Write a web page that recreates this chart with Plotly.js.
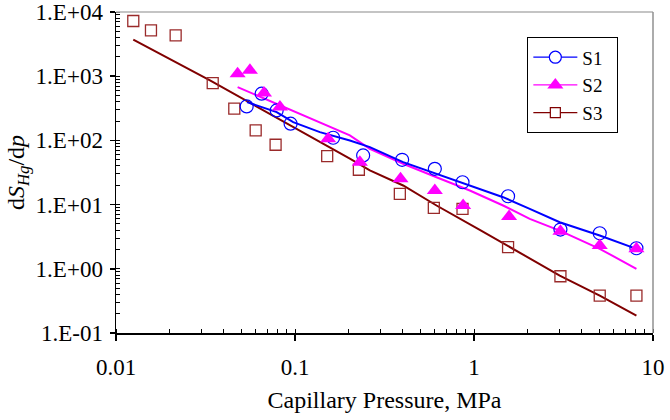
<!DOCTYPE html>
<html>
<head>
<meta charset="utf-8">
<script src="https://cdn.plot.ly/plotly-3.0.1.min.js"></script>
<style>html,body{margin:0;padding:0;background:#fff;}#chart{width:670px;height:420px;}</style>
</head>
<body>
<div id="chart"></div>
<script>
// Measured data (capillary pressure in MPa, dS_Hg/dp)
const s1X = [0.0537, 0.0651, 0.0790, 0.0945, 0.1634, 0.2403, 0.3968, 0.6042, 0.8627, 1.55, 3.04, 5.04, 8.08];
const s1Y = [338, 534, 293, 182, 110, 58.3, 49.9, 36.1, 22.3, 13.5, 4.09, 3.58, 2.09];
const s2X = [0.0478, 0.0560, 0.0671, 0.0824, 0.1532, 0.2304, 0.3886, 0.6042, 0.8694, 1.57, 3.04, 5.04, 8.08];
const s2Y = [1095, 1233, 546, 330, 106, 45.8, 25.3, 16.6, 9.7, 6.52, 3.85, 2.30, 2.05];
const s3X = [0.01249, 0.01568, 0.02154, 0.0347, 0.0458, 0.0603, 0.0779, 0.1513, 0.2274, 0.3852, 0.5965, 0.8627, 1.55, 3.04, 5.04, 8.08];
const s3Y = [7240, 5183, 4331, 781, 312, 143, 85.6, 56.8, 34.9, 14.7, 8.91, 8.6, 2.17, 0.765, 0.382, 0.382];

// Fitted trend lines
const fit1X = [0.0539, 0.0790, 0.0977, 0.1377, 0.2025, 0.2619, 0.4018, 0.6175, 0.9475, 1.454, 2.049, 3.013, 5.04, 8.08];
const fit1Y = [395, 276, 193, 134.6, 99.9, 78.5, 45.8, 30.2, 19.85, 13.04, 8.6, 5.31, 3.30, 2.04];
const fit2X = [0.0478, 0.2025, 0.2619, 0.4018, 0.6175, 0.9475, 1.454, 2.049, 3.013, 5.04, 8.08];
const fit2Y = [677, 119.5, 74.1, 43.3, 26.7, 16.6, 9.68, 6.0, 3.94, 2.05, 1.0];
const fit3X = [0.01249, 0.0335, 0.2025, 0.2619, 0.4018, 0.6175, 1.077, 2.33, 3.013, 5.04, 8.08];
const fit3Y = [3712, 861, 51.8, 34.0, 19.85, 9.68, 4.05, 1.19, 0.783, 0.382, 0.186];

const seriesNames = ['S1', 'S2', 'S3'];
const xTickVals = [0.01, 0.1, 1, 10];
const xTickText = ['0.01', '0.1', '1', '10'];
const yTickVals = [0.1, 1, 10, 100, 1000, 10000];
const yTickText = ['1.E-01', '1.E+00', '1.E+01', '1.E+02', '1.E+03', '1.E+04'];

const cBlue = '#0000FF', cMag = '#FF00FF', cRed = '#800000', cSq = '#9a2a2a';
const FONT = '"Liberation Serif", "Times New Roman", Times, serif';
const PAD = '\u00a0\u00a0';

const traces = [
  {x: fit3X, y: fit3Y, mode: 'lines', line: {color: cRed, width: 2}, showlegend: false, hoverinfo: 'skip'},
  {x: fit2X, y: fit2Y, mode: 'lines', line: {color: cMag, width: 2}, showlegend: false, hoverinfo: 'skip'},
  {x: fit1X, y: fit1Y, mode: 'lines', line: {color: cBlue, width: 2}, showlegend: false, hoverinfo: 'skip'},
  {x: s3X, y: s3Y, mode: 'markers', showlegend: false,
   marker: {symbol: 'square-open', size: 11, color: cSq, line: {color: cSq, width: 1.3}}},
  {x: s1X, y: s1Y, mode: 'markers', showlegend: false,
   marker: {symbol: 'circle-open', size: 13, color: cBlue, line: {color: cBlue, width: 1.2}}},
  {x: s2X, y: s2Y, mode: 'markers', showlegend: false,
   marker: {symbol: 'triangle-up', size: 14, color: cMag, line: {width: 0}}},
  // legend entries
  {x: [null], y: [null], name: seriesNames[0] + PAD, mode: 'lines+markers',
   line: {color: cBlue, width: 1.2}, marker: {symbol: 'circle', size: 12, color: '#fff', line: {color: cBlue, width: 1.2}}},
  {x: [null], y: [null], name: seriesNames[1] + PAD, mode: 'lines+markers',
   line: {color: cMag, width: 1.2}, marker: {symbol: 'triangle-up', size: 14, color: cMag, line: {width: 0}}},
  {x: [null], y: [null], name: seriesNames[2] + PAD, mode: 'lines+markers',
   line: {color: cRed, width: 1.2}, marker: {symbol: 'square', size: 10, color: '#fff', line: {color: cRed, width: 1.2}}}
];

const layout = {
  width: 670, height: 420,
  margin: {l: 116, r: 17, t: 12, b: 87, pad: 0},
  paper_bgcolor: '#fff', plot_bgcolor: '#fff',
  font: {family: FONT, size: 23, color: '#000'},
  showlegend: true,
  legend: {x: 0.766, y: 0.921, xanchor: 'left', yanchor: 'top',
           bgcolor: '#fff', bordercolor: '#000', borderwidth: 1, itemwidth: 44,
           font: {family: FONT, size: 19, color: '#000'}, tracegroupgap: 0},
  xaxis: {
    type: 'log', range: [-2, 1], autorange: false,
    tickmode: 'array', tickvals: xTickVals, ticktext: xTickText,
    ticks: 'outside', ticklen: 6, tickwidth: 1.5, tickcolor: '#000',
    showline: true, linecolor: '#000', linewidth: 1.5, mirror: false,
    showgrid: false, zeroline: false, ticklabelstandoff: 7, ticklabeloverflow: 'allow',
    minor: {ticks: 'inside', ticklen: 4, tickwidth: 1, tickcolor: '#000', dtick: 'D1', showgrid: false},
    tickfont: {family: FONT, size: 23, color: '#000'},
    title: {text: 'Capillary Pressure, MPa', font: {family: FONT, size: 24, color: '#000'}, standoff: 12}
  },
  yaxis: {
    type: 'log', range: [-1, 4], autorange: false,
    tickmode: 'array', tickvals: yTickVals, ticktext: yTickText,
    ticks: 'outside', ticklen: 5, tickwidth: 1.5, tickcolor: '#000',
    showline: true, linecolor: '#000', linewidth: 1.5, mirror: false,
    showgrid: false, zeroline: false, ticklabelstandoff: 2, ticklabeloverflow: 'allow',
    minor: {ticks: 'inside', ticklen: 4, tickwidth: 1, tickcolor: '#000', dtick: 'D1', showgrid: false},
    tickfont: {family: FONT, size: 23, color: '#000'},
    title: {text: 'd<i>S</i><sub><i>Hg</i></sub>/d<i>p</i>', font: {family: FONT, size: 24, color: '#000'}, standoff: 4}
  },
  shapes: [
    {type: 'line', xref: 'paper', yref: 'paper', x0: 0, x1: 1, y0: 1, y1: 1, line: {color: '#b0b0b0', width: 1.5}},
    {type: 'line', xref: 'paper', yref: 'paper', x0: 1, x1: 1, y0: 0, y1: 1, line: {color: '#909090', width: 1.5}}
  ]
};

Plotly.newPlot('chart', traces, layout, {staticPlot: true, displayModeBar: false});
</script>
</body>
</html>
